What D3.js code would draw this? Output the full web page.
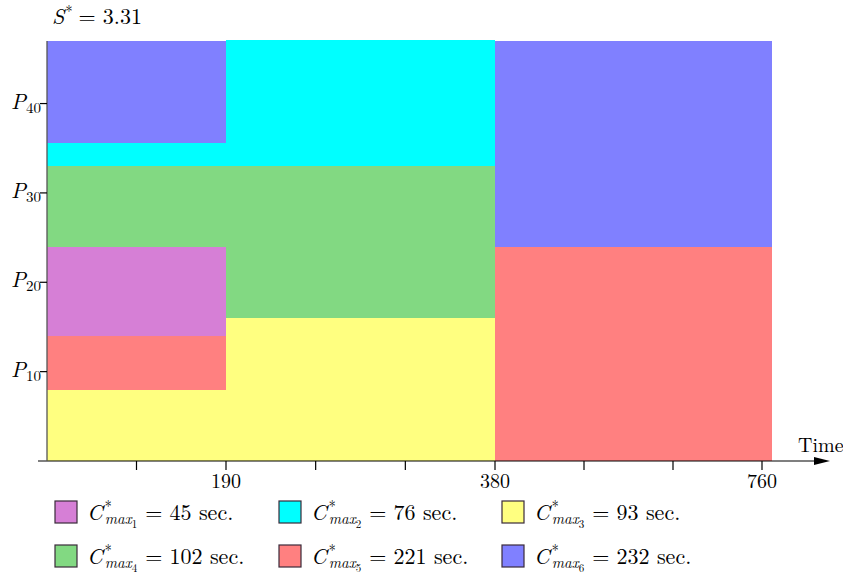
<!DOCTYPE html>
<html>
<head>
<meta charset="utf-8">
<title>Schedule</title>
<script src="https://d3js.org/d3.v7.min.js"></script>
<style>
  body { margin: 0; background: #fff; }
</style>
</head>
<body>
<svg id="chart"></svg>
<script>
// job ids, colours and makespans
const jobs = [1, 2, 3, 4, 5, 6];
const jobColors = ["#d67fd6", "#00ffff", "#ffff80", "#82d982", "#ff8080", "#8080ff"];
const cmax = [45, 76, 93, 102, 221, 232];

// allocated blocks: job, time start/end, processor start/end
const blocks = [
  { job: 3, t0: 0, t1: 190, p0: 0, p1: 8 },
  { job: 5, t0: 0, t1: 190, p0: 8, p1: 14 },
  { job: 1, t0: 0, t1: 190, p0: 14, p1: 24 },
  { job: 4, t0: 0, t1: 190, p0: 24, p1: 33 },
  { job: 2, t0: 0, t1: 190, p0: 33, p1: 35.6 },
  { job: 6, t0: 0, t1: 190, p0: 35.6, p1: 47 },
  { job: 3, t0: 190, t1: 380, p0: 0, p1: 16 },
  { job: 4, t0: 190, t1: 380, p0: 16, p1: 33 },
  { job: 2, t0: 190, t1: 380, p0: 33, p1: 47.1 },
  { job: 5, t0: 380, t1: 774, p0: 0, p1: 24 },
  { job: 6, t0: 380, t1: 774, p0: 24, p1: 47 }
];

const xBreaks = [0, 190, 380, 760];
const xTicks = [95, 190, 253.33, 316.67, 380, 506.67, 633.33, 760];
const xLabels = [190, 380, 760];
const yTicks = [10, 20, 30, 40];
const speedup = "3.31";

const FONT = '"Latin Modern Roman", "Liberation Serif", serif';
const W = 843, H = 574;
const svg = d3.select("#chart").attr("width", W).attr("height", H);

// the time axis is drawn piecewise (each segment has its own step)
const x = d3.scaleLinear().domain(xBreaks).range([47, 226, 495, 762]);
const y = d3.scaleLinear().domain([0, 47]).range([461, 41]);

svg.selectAll("rect.block")
  .data(blocks)
  .enter().append("rect")
  .attr("class", "block")
  .attr("x", d => x(d.t0))
  .attr("width", d => x(d.t1) - x(d.t0))
  .attr("y", d => y(d.p1))
  .attr("height", d => y(d.p0) - y(d.p1))
  .attr("fill", d => jobColors[d.job - 1])
  .attr("shape-rendering", "crispEdges");

// measure a piece of text
const meas = svg.append("text").style("font-family", FONT).attr("x", -999).attr("y", -999);
function textW(s, size, italic) {
  meas.style("font-size", size + "px").style("font-style", italic ? "italic" : "normal").text(s);
  return meas.node().getComputedTextLength();
}

// math-like label as one <text> with absolutely placed tspans
function mathText(g, x0, y0, parts) {
  const t = g.append("text").style("font-family", FONT).attr("fill", "#000");
  let cx = x0, stackX = null;
  parts.forEach(p => {
    const start = p.under ? stackX : cx;
    t.append("tspan")
      .attr("x", start)
      .attr("y", y0 + (p.shift || 0))
      .style("font-size", p.size + "px")
      .style("font-style", p.italic ? "italic" : "normal")
      .text(p.text);
    const w = textW(p.text, p.size, p.italic);
    if (p.over) { stackX = cx; cx = cx + w; }
    else if (p.under) { cx = Math.max(cx, start + w); }
    else cx = start + w;
    cx += (p.gap || 0);
  });
  return t;
}

// axes
const axisG = svg.append("g");
axisG.append("line")
  .attr("x1", 38).attr("x2", 818)
  .attr("y1", y(0)).attr("y2", y(0))
  .attr("stroke", "#000").attr("stroke-width", 1.2);
axisG.append("path")
  .attr("d", `M${x(760) + 52},${y(0) - 4} L${x(760) + 68},${y(0)} L${x(760) + 52},${y(0) + 4} Z`)
  .attr("fill", "#000");
axisG.append("line")
  .attr("x1", x(0)).attr("x2", x(0))
  .attr("y1", y(0)).attr("y2", y(47))
  .attr("stroke", "#555").attr("stroke-width", 1.3);

axisG.selectAll("line.xt")
  .data(xTicks)
  .enter().append("line")
  .attr("class", "xt")
  .attr("x1", d => x(d)).attr("x2", d => x(d))
  .attr("y1", y(0)).attr("y2", y(0) + 9)
  .attr("stroke", "#000").attr("stroke-width", 1.2);

axisG.selectAll("text.xl")
  .data(xLabels)
  .enter().append("text")
  .attr("class", "xl")
  .attr("x", d => x(d)).attr("y", 488)
  .attr("text-anchor", "middle")
  .style("font-family", FONT)
  .style("font-size", "20px")
  .text(d => d);

axisG.append("text")
  .attr("x", 798).attr("y", 452)
  .style("font-family", FONT)
  .style("font-size", "20px")
  .text("Time");

axisG.selectAll("line.yt")
  .data(yTicks)
  .enter().append("line")
  .attr("class", "yt")
  .attr("x1", x(0) - 7).attr("x2", x(0))
  .attr("y1", d => y(d)).attr("y2", d => y(d))
  .attr("stroke", "#000").attr("stroke-width", 1.2);

yTicks.forEach(v => {
  mathText(axisG, 11, y(v) + 5, [
    { text: "P", size: 22, italic: true },
    { text: String(v), size: 15, shift: 4 }
  ]);
});

// title
mathText(svg, 52, 24, [
  { text: "S", size: 22, italic: true, gap: 1 },
  { text: "*", size: 14, shift: -8, gap: 6 },
  { text: "= " + speedup, size: 22 }
]);

// legend
const legCols = [55, 279, 502];
const legRows = [501, 545];
jobs.forEach((j, i) => {
  const lx = legCols[i % 3], ly = legRows[Math.floor(i / 3)];
  const g = svg.append("g");
  g.append("rect")
    .attr("x", lx).attr("y", ly)
    .attr("width", 22).attr("height", 22)
    .attr("fill", jobColors[i])
    .attr("stroke", "#3a2a3a").attr("stroke-width", 1.2);
  mathText(g, lx + 32, ly + 19, [
    { text: "C", size: 22, italic: true, gap: 2 },
    { text: "*", size: 14, shift: -9, over: true },
    { text: "max", size: 15, italic: true, shift: 4, under: true },
    { text: String(j), size: 11, shift: 8, gap: 8 },
    { text: "= " + cmax[i] + " sec.", size: 22 }
  ]);
});
meas.remove();
</script>
</body>
</html>
